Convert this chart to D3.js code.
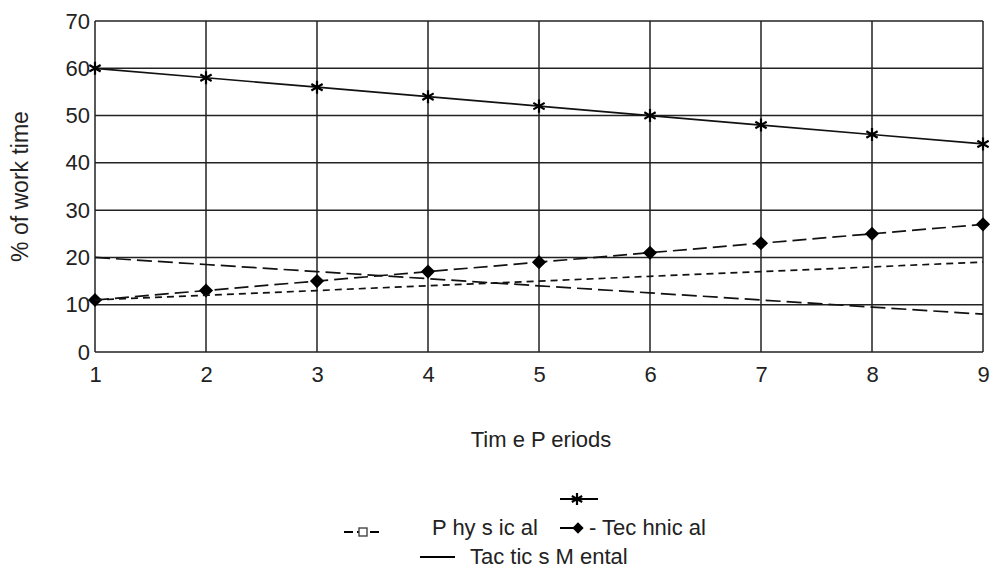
<!DOCTYPE html>
<html>
<head>
<meta charset="utf-8">
<script src="https://cdn.jsdelivr.net/npm/d3@7"></script>
<style>
  body { margin: 0; background: #fff; }
  svg text { font-family: "Liberation Sans", Arial, sans-serif; fill: #222; }
</style>
</head>
<body>
<div class="chart"></div>
<script>
// time periods and series values
const periods = [1, 2, 3, 4, 5, 6, 7, 8, 9];
const yTicks = [0, 10, 20, 30, 40, 50, 60, 70];
const physical = [60, 58, 56, 54, 52, 50, 48, 46, 44];
const technical = [11, 13, 15, 17, 19, 21, 23, 25, 27];
const tactics = [11, 12, 13, 14, 15, 16, 17, 18, 19];
const mental = [20, 18.5, 17, 15.5, 14, 12.5, 11, 9.5, 8];

const width = 998, height = 568;
const margin = { top: 21, right: 15, bottom: 216, left: 95 };

const svg = d3.select('.chart').append('svg').attr('width', width).attr('height', height);

const x = d3.scaleLinear().domain([1, 9]).range([margin.left, width - margin.right]);
const y = d3.scaleLinear().domain([0, 70]).range([height - margin.bottom, margin.top]);

// grid
const grid = svg.append('g').attr('stroke', '#222').attr('stroke-width', 1.5);
grid.selectAll('.h').data(yTicks).enter().append('line')
	.attr('x1', x(1)).attr('x2', x(9))
	.attr('y1', d => y(d)).attr('y2', d => y(d));
grid.selectAll('.v').data(periods).enter().append('line')
	.attr('y1', y(0)).attr('y2', y(70))
	.attr('x1', d => x(d)).attr('x2', d => x(d));

// axes (labels only, grid does the lines)
const yAxis = svg.append('g').attr('transform', `translate(${x(1)},0)`)
	.call(d3.axisLeft(y).tickValues(yTicks).tickSize(0).tickPadding(5));
const xAxis = svg.append('g').attr('transform', `translate(0,${y(0)})`)
	.call(d3.axisBottom(x).tickValues(periods).tickSize(0).tickPadding(14));
[yAxis, xAxis].forEach(a => {
	a.select('.domain').remove();
	a.selectAll('text').style('font-size', '22px').attr('fill', '#222');
});

svg.append('text')
	.attr('transform', `translate(28,${(y(0) + y(70)) / 2}) rotate(-90)`)
	.attr('text-anchor', 'middle')
	.style('font-size', '23px')
	.text('% of work time');

svg.append('text')
	.attr('x', 541).attr('y', 447)
	.attr('text-anchor', 'middle')
	.style('font-size', '22px')
	.text('Tim e P eriods');

const line = d3.line().x((d, i) => x(periods[i])).y(d => y(d));

const series = [
	{ name: 'physical', values: physical, dash: null, marker: 'star' },
	{ name: 'technical', values: technical, dash: '14,6', marker: 'diamond' },
	{ name: 'tactics', values: tactics, dash: '7,5', marker: null },
	{ name: 'mental', values: mental, dash: '15,6', marker: null },
];

series.forEach(s => {
	svg.append('path')
		.datum(s.values)
		.attr('fill', 'none')
		.attr('stroke', '#111')
		.attr('stroke-width', 1.7)
		.attr('stroke-dasharray', s.dash)
		.attr('d', line);
	if (s.marker) {
		const isStar = s.marker === 'star';
		svg.append('g').selectAll('path').data(s.values).enter().append('path')
			.attr('transform', (d, i) => `translate(${x(periods[i])},${y(d)}) rotate(${isStar ? 0 : 45})`)
			.attr('d', d3.symbol(isStar ? d3.symbolAsterisk : d3.symbolSquare, isStar ? 120 : 100))
			.attr('fill', '#000')
			.attr('stroke', '#000')
			.attr('stroke-width', isStar ? 2.2 : 0);
	}
});

// legend (kept in the same jumbled layout as the original)
const legend = svg.append('g').style('font-size', '22px');

// asterisk entry with no label
legend.append('line').attr('x1', 560).attr('x2', 598).attr('y1', 499).attr('y2', 499)
	.attr('stroke', '#000').attr('stroke-width', 2);
legend.append('path').attr('transform', 'translate(577,499)')
	.attr('d', d3.symbol(d3.symbolAsterisk, 100)).attr('stroke', '#000').attr('stroke-width', 2.2);

// square dashed entry
legend.append('line').attr('x1', 344).attr('x2', 383).attr('y1', 532).attr('y2', 532)
	.attr('stroke', '#000').attr('stroke-width', 1.8).attr('stroke-dasharray', '9,4');
legend.append('rect').attr('x', 359).attr('y', 528).attr('width', 8).attr('height', 8)
	.attr('fill', '#fff').attr('stroke', '#444').attr('stroke-width', 1.4);
legend.append('text').attr('x', 432).attr('y', 535).text('P hy s ic al');

// diamond entry
legend.append('line').attr('x1', 560).attr('x2', 574).attr('y1', 528).attr('y2', 528)
	.attr('stroke', '#000').attr('stroke-width', 2);
legend.append('path').attr('transform', 'translate(578,528) rotate(45)')
	.attr('d', d3.symbol(d3.symbolSquare, 64)).attr('fill', '#000');
legend.append('text').attr('x', 589).attr('y', 535).text('- Tec hnic al');

// solid entry
legend.append('line').attr('x1', 420).attr('x2', 455).attr('y1', 557).attr('y2', 557)
	.attr('stroke', '#000').attr('stroke-width', 2);
legend.append('text').attr('x', 470).attr('y', 564).text('Tac tic s M ental');
</script>
</body>
</html>
